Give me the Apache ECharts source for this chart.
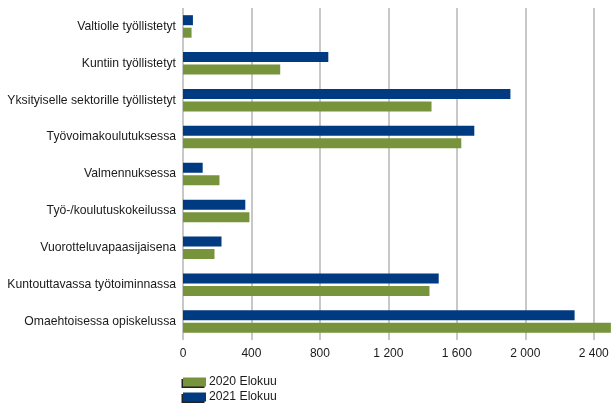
<!DOCTYPE html>
<html>
<head>
<meta charset="utf-8">
<script src="https://cdn.jsdelivr.net/npm/echarts@6/dist/echarts.min.js"></script>
<style>
html,body{margin:0;padding:0;background:#fff;overflow:hidden;width:611px;height:403px;}
#c{width:631px;height:403px;}
</style>
</head>
<body>
<div id="c"></div>
<script>
var categories = [
  "Valtiolle työllistetyt",
  "Kuntiin työllistetyt",
  "Yksityiselle sektorille työllistetyt",
  "Työvoimakoulutuksessa",
  "Valmennuksessa",
  "Työ-/koulutuskokeilussa",
  "Vuorotteluvapaasijaisena",
  "Kuntouttavassa työtoiminnassa",
  "Omaehtoisessa opiskelussa"
];
var seriesNames = ["2020 Elokuu", "2021 Elokuu"];
var values2020 = [50, 568, 1452, 1626, 213, 388, 184, 1440, 2500];
var values2021 = [58, 849, 1913, 1702, 115, 364, 225, 1494, 2288];
var tickValues = [0, 400, 800, 1200, 1600, 2000, 2400];

function fmt(v) {
  return String(v).replace(/\B(?=(\d{3})+(?!\d))/g, ' ');
}

var chart = echarts.init(document.getElementById('c'), null, {renderer: 'canvas'});
var font = 'Liberation Sans, Arial, sans-serif';
function legendAt(name, top) {
  return {
    orient: 'vertical',
    left: 183,
    top: top,
    padding: 0,
    itemWidth: 23,
    itemHeight: 9,
    icon: 'rect',
    data: [name],
    textStyle: {color: '#1a1a1a', fontSize: 12.2, fontFamily: font, padding: [0, 0, 0, -2]},
    itemStyle: {shadowColor: '#222', shadowBlur: 0, shadowOffsetX: -1.5, shadowOffsetY: 1.5}
  };
}
chart.setOption({
  animation: false,
  textStyle: {fontFamily: font},
  grid: {left: 183, right: 0, top: 8, bottom: 63, containLabel: false},
  xAxis: {
    type: 'value',
    min: 0,
    max: 2600,
    interval: 400,
    axisLine: {show: false},
    axisTick: {show: false},
    splitLine: {show: true, lineStyle: {color: '#c8c8c8', width: 2}},
    axisLabel: {
      color: '#1a1a1a',
      fontSize: 12,
      fontFamily: font,
      margin: 8,
      formatter: function (v) { return tickValues.indexOf(v) >= 0 ? fmt(v) : ''; }
    }
  },
  yAxis: {
    type: 'category',
    inverse: true,
    data: categories,
    axisLine: {show: false},
    axisTick: {show: false},
    splitLine: {show: false},
    axisLabel: {color: '#1a1a1a', fontSize: 12.2, fontFamily: font, margin: 7}
  },
  legend: [legendAt(seriesNames[0], 376), legendAt(seriesNames[1], 391)],
  series: [
    {
      name: seriesNames[1],
      type: 'bar',
      data: values2021,
      barWidth: 10,
      barGap: '25%',
      itemStyle: {color: '#003a80'}
    },
    {
      name: seriesNames[0],
      type: 'bar',
      data: values2020,
      barWidth: 10,
      barGap: '25%',
      itemStyle: {color: '#77933c'}
    }
  ]
});
</script>
</body>
</html>
